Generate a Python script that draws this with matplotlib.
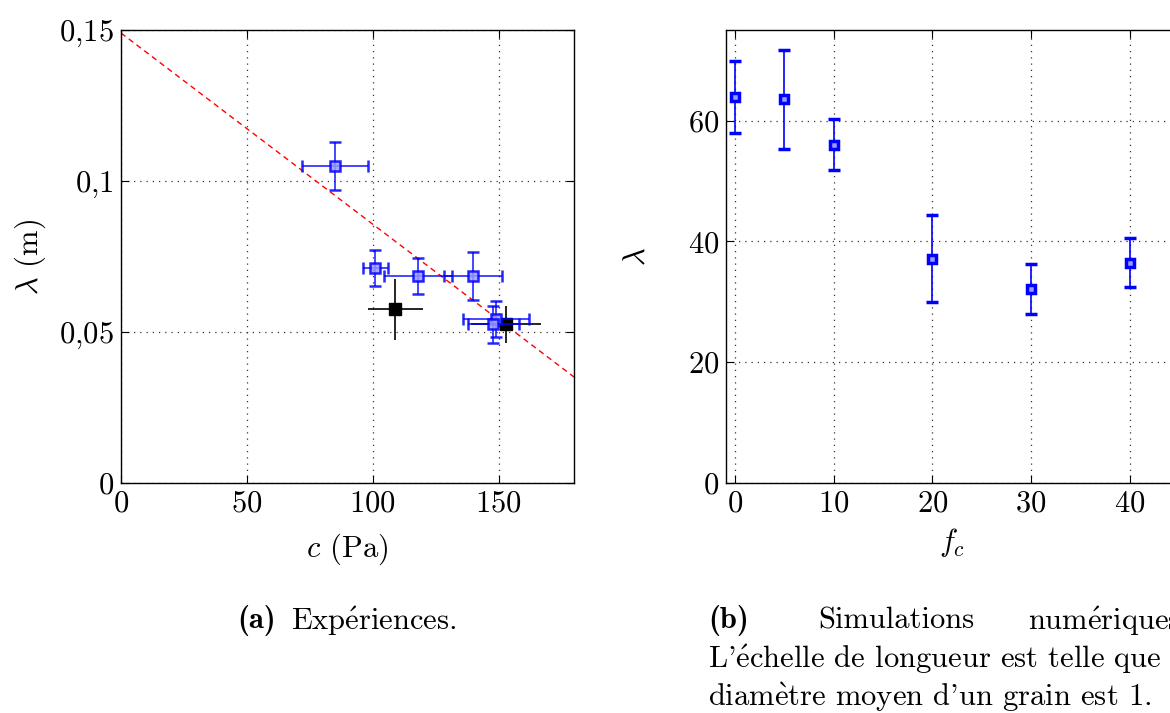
import numpy as np
from matplotlib import pyplot as plt

plt.rcParams['font.family'] = ['cmr10', 'DejaVu Serif']
plt.rcParams['mathtext.fontset'] = 'cm'
plt.rcParams['axes.unicode_minus'] = False

# (a) experiences
c_blue = [85, 101, 118, 140, 149, 148]
lam_blue = [0.105, 0.0713, 0.0686, 0.0686, 0.0542, 0.0525]
c_blue_err = [13, 5, 13.5, 11.5, 13, 10]
lam_blue_err = [0.008, 0.006, 0.006, 0.008, 0.006, 0.006]

c_black = [109, 153]
lam_black = [0.0575, 0.0525]
c_black_err = [11, 14]
lam_black_err = [0.010, 0.006]

fit_c = [0, 180]
fit_lam = [0.149, 0.0351]

xticks_a = [0, 50, 100, 150]
yticks_a = [0, 0.05, 0.1, 0.15]
yticklabels_a = ['$0$', '$0{,}05$', '$0{,}1$', '$0{,}15$']

# (b) simulations
fc = [0, 5, 10, 20, 30, 40]
lam_sim = [63.9, 63.5, 56.0, 37.1, 32.1, 36.5]
lam_sim_err = [6.0, 8.2, 4.2, 7.2, 4.2, 4.1]

xticks_b = [0, 10, 20, 30, 40]
yticks_b = [0, 20, 40, 60]

fs = 22
blue = '#0000ff'
light = '#9a9aff'

fig = plt.figure(figsize=(11.7, 7.13), dpi=100)
ax1 = fig.add_axes([121/1170, 230/713, 453/1170, 453/713])
ax2 = fig.add_axes([726/1170, 230/713, 453/1170, 453/713])

def style(ax, xt, yt, ylabs=None):
    ax.set_xticks(xt)
    ax.set_xticklabels(['$%d$' % v for v in xt])
    ax.set_yticks(yt)
    if ylabs is None:
        ylabs = ['$%d$' % v for v in yt]
    ax.set_yticklabels(ylabs)
    ax.tick_params(direction='in', top=True, right=True, length=6, width=0.8,
                   labelsize=fs, pad=5)
    ax.grid(True, linestyle=(0, (1, 4)), color='#333333', linewidth=0.9)
    for s in ax.spines.values():
        s.set_linewidth(1.0)

# left plot
ax1.plot(fit_c, fit_lam, color='red', linestyle=(0, (4, 3)), linewidth=1.0, zorder=2)
ax1.errorbar(c_black, lam_black, xerr=c_black_err, yerr=lam_black_err, fmt='s',
             color='black', ecolor='black', markersize=8, mfc='black', mec='black',
             elinewidth=1.2, capsize=0, zorder=3)
ax1.errorbar(c_blue, lam_blue, xerr=c_blue_err, yerr=lam_blue_err, fmt='s',
             color=blue, ecolor=blue, markersize=6.5, mfc=light, mec=blue, mew=1.8,
             elinewidth=1.2, capsize=4, capthick=1.0, alpha=0.85, zorder=4)
ax1.set_xlim(0, 180)
ax1.set_ylim(0, 0.15)
style(ax1, xticks_a, yticks_a, yticklabels_a)
ax1.set_xlabel(r'$c$ (Pa)', fontsize=fs, labelpad=10)
ax1.set_ylabel(r'$\lambda$ (m)', fontsize=fs, labelpad=8)

# right plot
ax2.errorbar(fc, lam_sim, yerr=lam_sim_err, fmt='s', color=blue, ecolor=blue,
             markersize=6, mfc=light, mec=blue, mew=2.5, elinewidth=1.2,
             capsize=4, capthick=1.0, zorder=4)
ax2.set_xlim(-0.9, 45)
ax2.set_ylim(0, 75)
style(ax2, xticks_b, yticks_b)
ax2.set_xlabel(r'$f_c$', fontsize=fs, labelpad=6)
ax2.set_ylabel(r'$\lambda$', fontsize=fs, labelpad=27)

# captions
cy = 1 - 621/713
fig.text(237/1170, cy, '(a)', fontsize=fs, family='cmb10', ha='left', va='center')
fig.text(291/1170, cy, r'Exp$\acute{\mathrm{e}}$riences.', fontsize=fs,
         ha='left', va='center')
fig.text(708/1170, cy, '(b)', fontsize=fs, family='cmb10', ha='left', va='center')
fig.text(818/1170, cy, 'Simulations', fontsize=fs, ha='left', va='center')
fig.text(1028/1170, cy, r'num$\acute{\mathrm{e}}$riques.', fontsize=fs,
         ha='left', va='center')
fig.text(708/1170, 1 - 659/713, r"L'$\acute{\mathrm{e}}$chelle de longueur est telle que le",
         fontsize=fs, ha='left', va='center')
fig.text(708/1170, 1 - 697/713, r"diam$\grave{\mathrm{e}}$tre moyen d'un grain est 1.",
         fontsize=fs, ha='left', va='center')

plt.savefig('out.png', dpi=100)
